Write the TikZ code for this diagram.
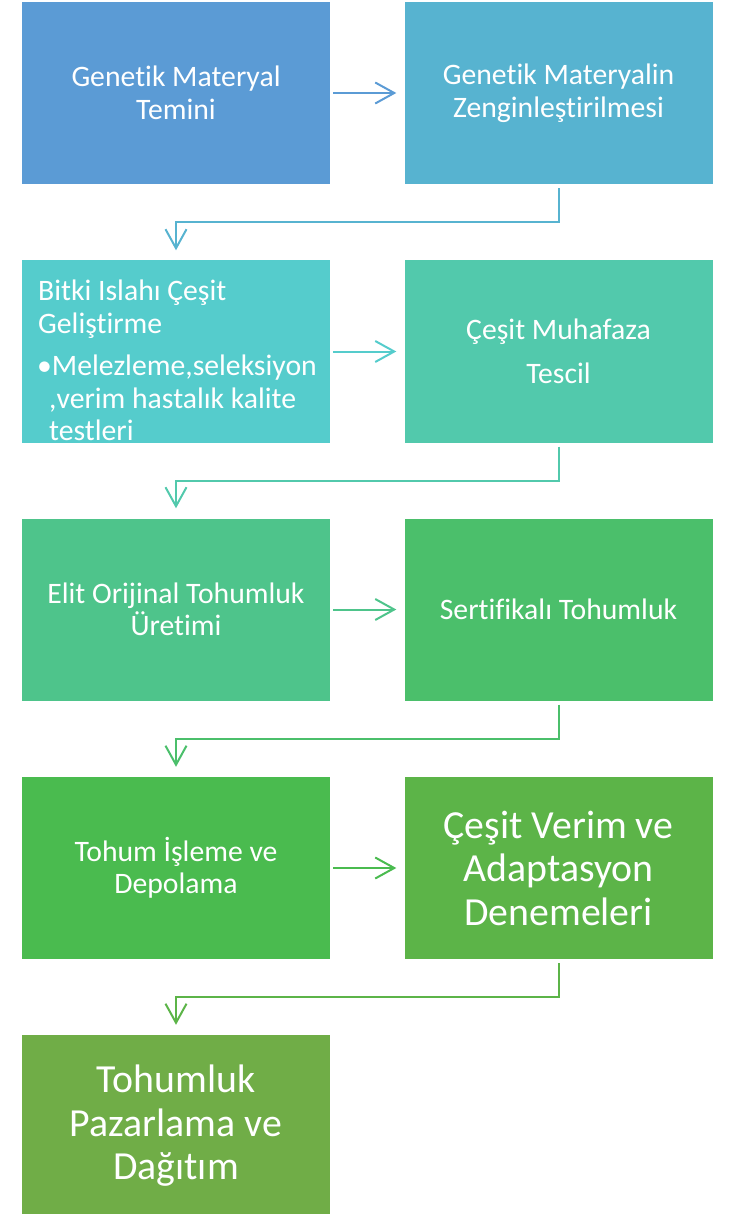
\documentclass[tikz,border=0pt]{standalone}
\usepackage{fontspec}
\setmainfont{Carlito}[RawFeature={-liga}]
\usetikzlibrary{arrows.meta}
\definecolor{c1}{HTML}{5B9BD5}
\definecolor{c2}{HTML}{57B3D0}
\definecolor{c3}{HTML}{55CCCC}
\definecolor{c4}{HTML}{52C9AC}
\definecolor{c5}{HTML}{4EC48B}
\definecolor{c6}{HTML}{4BBF6B}
\definecolor{c7}{HTML}{4ABB4F}
\definecolor{c8}{HTML}{5CB448}
\definecolor{c9}{HTML}{70AD47}
\begin{document}
\begin{tikzpicture}[x=1pt,y=-1pt,
  box/.style={fill=#1,minimum width=308pt,minimum height=182pt,inner sep=0pt,
    text=white,align=center,font=\fontsize{29.7}{32.5}\selectfont},
  bigbox/.style={box=#1,font=\fontsize{39.8}{43.5}\selectfont},
  conn/.style={draw=#1,line width=2pt,-{Straight Barb[length=19pt,width=21pt,line width=2pt]}}]
\useasboundingbox (0,0) rectangle (731,1214);
% boxes
\node[box=c1] (b1) at (176,93) {Genetik Materyal\\Temini};
\node[box=c2] (b2) at (558.5,93) {Genetik Materyalin\\Zenginleştirilmesi};
\node[box=c3] (b3) at (176,351.5) {};
\node[anchor=north west,inner sep=0pt,text=white,align=left,font=\fontsize{29.7}{32.5}\selectfont] (t3) at (38,280)
  {Bitki Islahı Çeşit\\Geliştirme\\[10pt]\hspace*{-1pt}•Melezleme,seleksiyon\\\hspace*{11pt},verim hastalık kalite\\\hspace*{11pt}testleri};
\node[box=c4] (b4) at (558.5,351.5) {Çeşit Muhafaza\\[12pt]Tescil};
\node[box=c5] (b5) at (176,609.5) {Elit Orijinal Tohumluk\\Üretimi};
\node[box=c6] (b6) at (558.5,609.5) {Sertifikalı Tohumluk};
\node[box=c7] (b7) at (176,868) {Tohum İşleme ve\\Depolama};
\node[bigbox=c8] (b8) at (558.5,868) {Çeşit Verim ve\\Adaptasyon\\Denemeleri};
\node[bigbox=c9] (b9) at (176,1126) {Tohumluk\\Pazarlama ve\\Dağıtım};
% horizontal arrows
\draw[conn=c1] ([xshift=3pt]b1.east) -- ([xshift=-8pt]b2.west);
\draw[conn=c3] ([xshift=3pt]b3.east) -- ([xshift=-8pt]b4.west);
\draw[conn=c5] ([xshift=3pt]b5.east) -- ([xshift=-8pt]b6.west);
\draw[conn=c7] ([xshift=3pt]b7.east) -- ([xshift=-8pt]b8.west);
% elbow arrows
\draw[conn=c2] ([yshift=-4pt]b2.south) -- ++(0,34) -| ([yshift=10pt]b3.north);
\draw[conn=c4] ([yshift=-4pt]b4.south) -- ++(0,34) -| ([yshift=10pt]b5.north);
\draw[conn=c6] ([yshift=-4pt]b6.south) -- ++(0,34) -| ([yshift=10pt]b7.north);
\draw[conn=c8] ([yshift=-4pt]b8.south) -- ++(0,34) -| ([yshift=10pt]b9.north);
\end{tikzpicture}
\end{document}
